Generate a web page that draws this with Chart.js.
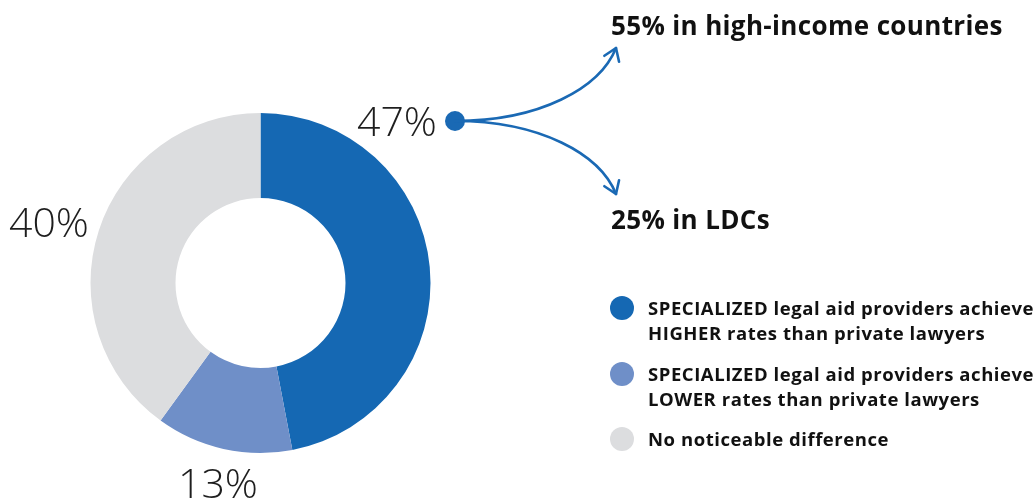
<!DOCTYPE html>
<html>
<head>
<meta charset="utf-8">
<script src="https://cdn.jsdelivr.net/npm/chart.js@4"></script>
<style>
  html, body { margin: 0; padding: 0; background: #fff; }
  #wrap { position: relative; width: 1036px; height: 501px; }
</style>
</head>
<body>
<div id="wrap"><canvas id="donut" width="1036" height="501"></canvas></div>
<script>
// chart values
var categories = [
  'SPECIALIZED legal aid providers achieve\nHIGHER rates than private lawyers',
  'SPECIALIZED legal aid providers achieve\nLOWER rates than private lawyers',
  'No noticeable difference'
];
var shares = [47, 13, 40];
var sliceColors = ['#1568b3', '#6f8fc8', '#dcdddf'];
var splitLabels = ['55% in high-income countries', '25% in LDCs'];

var BLUE = '#1a69b4';

function drawArrow(ctx, p0, p1, p2, p3) {
  ctx.beginPath();
  ctx.moveTo(p0[0], p0[1]);
  ctx.bezierCurveTo(p1[0], p1[1], p2[0], p2[1], p3[0], p3[1]);
  ctx.stroke();
  // arrow head along the end tangent
  var ang = Math.atan2(p3[1] - p2[1], p3[0] - p2[0]);
  var len = 14, spread = 0.6;
  ctx.beginPath();
  ctx.moveTo(p3[0] - len * Math.cos(ang - spread), p3[1] - len * Math.sin(ang - spread));
  ctx.lineTo(p3[0], p3[1]);
  ctx.lineTo(p3[0] - len * Math.cos(ang + spread), p3[1] - len * Math.sin(ang + spread));
  ctx.stroke();
}

var annotations = {
  id: 'annotations',
  afterDraw: function (chart) {
    var ctx = chart.ctx;
    ctx.save();

    // percent labels
    ctx.fillStyle = '#1e1e1e';
    ctx.font = '300 41px "Open Sans", sans-serif';
    ctx.textAlign = 'center';
    ctx.textBaseline = 'alphabetic';
    var spots = [[397, 136], [218, 498], [49, 237]];
    shares.forEach(function (v, i) {
      ctx.fillText(v + '%', spots[i][0], spots[i][1]);
    });

    // dot and split arrows
    ctx.fillStyle = BLUE;
    ctx.beginPath();
    ctx.arc(455, 121, 10, 0, Math.PI * 2);
    ctx.fill();
    ctx.strokeStyle = BLUE;
    ctx.lineWidth = 2.6;
    ctx.lineCap = 'round';
    ctx.lineJoin = 'round';
    drawArrow(ctx, [455, 121], [540, 121], [600, 88], [616, 48]);
    drawArrow(ctx, [455, 121], [540, 121], [600, 154], [616, 194]);

    // split texts
    ctx.fillStyle = '#111';
    ctx.textAlign = 'left';
    ctx.font = 'bold 26px "Open Sans", sans-serif';
    ctx.letterSpacing = '0.35px';
    ctx.fillText(splitLabels[0], 611, 35);
    ctx.fillText(splitLabels[1], 611, 229);

    // legend
    var rows = [308, 374, 439];
    ctx.font = 'bold 18.5px "Open Sans", sans-serif';
    ctx.letterSpacing = '0.55px';
    categories.forEach(function (c, i) {
      ctx.fillStyle = sliceColors[i];
      ctx.beginPath();
      ctx.arc(622, rows[i], 12, 0, Math.PI * 2);
      ctx.fill();
      ctx.fillStyle = '#111';
      c.split('\n').forEach(function (line, j) {
        ctx.fillText(line, 648, rows[i] + 7 + j * 25);
      });
    });

    ctx.restore();
  }
};

var ctx = document.getElementById('donut').getContext('2d');
var donutChart = new Chart(ctx, {
  type: 'doughnut',
  data: {
    labels: categories,
    datasets: [{
      data: shares,
      backgroundColor: sliceColors,
      borderWidth: 0,
      hoverOffset: 0
    }]
  },
  options: {
    responsive: false,
    animation: false,
    events: [],
    cutout: '50%',
    layout: {
      padding: { left: 90.5, right: 605.5, top: 113, bottom: 48 }
    },
    plugins: {
      legend: { display: false },
      tooltip: { enabled: false }
    }
  },
  plugins: [annotations]
});
</script>
</body>
</html>
